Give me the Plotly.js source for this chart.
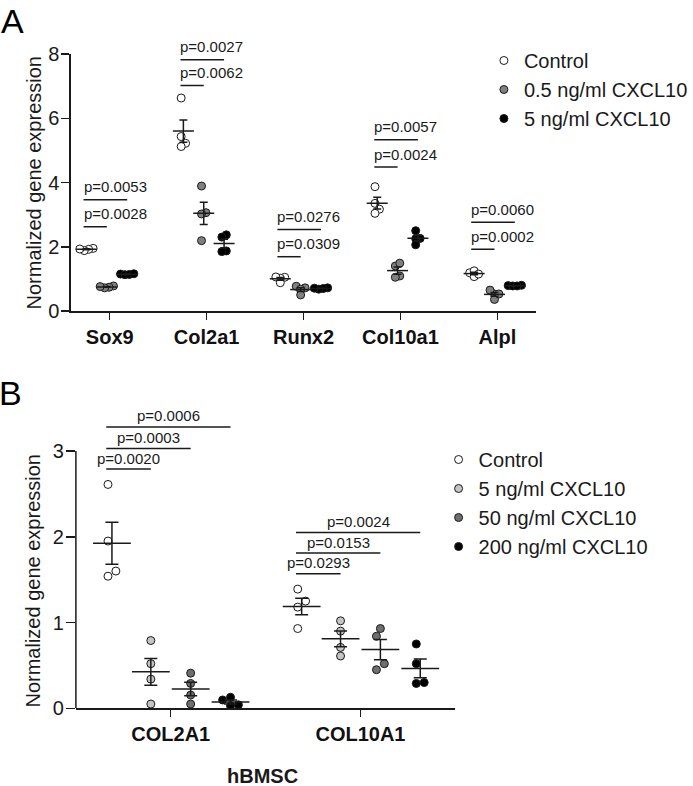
<!DOCTYPE html>
<html><head><meta charset="utf-8">
<script src="https://cdn.plot.ly/plotly-3.0.1.min.js"></script>
<style>html,body{margin:0;padding:0;background:#fff}#chart{width:693px;height:786px}</style>
</head><body><div id="chart"></div>
<script>
// ---------- Panel A data ----------
const catsA = ['Sox9', 'Col2a1', 'Runx2', 'Col10a1', 'Alpl'];
const groupsA = ['Control', '0.5 ng/ml CXCL10', '5 ng/ml CXCL10'];
const ctrlA  = [[1.95,1.92,1.88,1.93],[6.63,5.43,5.22,5.12],[1.05,1.02,1.06,0.88],[3.87,3.35,3.17,3.04],[1.19,1.25,1.07,1.15]];
const cx05A  = [[0.78,0.74,0.72,0.76],[3.89,3.06,3.02,2.19],[0.77,0.72,0.68,0.50],[1.40,1.49,1.09,1.05],[0.53,0.65,0.36,0.53]];
const cx5A   = [[1.15,1.13,1.14,1.16],[2.37,2.30,1.87,1.85],[0.72,0.70,0.68,0.71],[2.50,2.26,2.25,2.06],[0.79,0.78,0.80,0.78]];
const pTopA  = ['p=0.0053','p=0.0027','p=0.0276','p=0.0057','p=0.0060'];
const pBotA  = ['p=0.0028','p=0.0062','p=0.0309','p=0.0024','p=0.0002'];
const barTopA = [3.46, 7.82, 2.54, 5.33, 2.76];
const barBotA = [2.62, 7.02, 1.69, 4.48, 1.92];
const yTicksA = [0, 2, 4, 6, 8];

// ---------- Panel B data ----------
const catsB = ['COL2A1', 'COL10A1'];
const groupsB = ['Control', '5 ng/ml CXCL10', '50 ng/ml CXCL10', '200 ng/ml CXCL10'];
const ctrlB = [[2.61,1.95,1.54,1.60],[1.39,1.25,1.18,0.93]];
const c5B   = [[0.79,0.52,0.34,0.05],[1.02,0.90,0.71,0.61]];
const c50B  = [[0.41,0.29,0.155,0.05],[0.93,0.84,0.52,0.45]];
const c200B = [[0.097,0.128,0.03,0.04],[0.75,0.52,0.29,0.30]];
const pB    = [['p=0.0020','p=0.0003','p=0.0006'],['p=0.0293','p=0.0153','p=0.0024']];
const barB  = [[2.79, 3.03, 3.28],[1.57, 1.81, 2.05]];
const yTicksB = [0, 1, 2, 3];
const xTitleB = 'hBMSC';
const yTitle = 'Normalized gene expression';

// ---------- helpers ----------
const W = 693, H = 786;
const FONT = 'Liberation Sans, Arial, sans-serif';
const INK = '#1a1a1a';
function mean(a){ return a.reduce((s,v)=>s+v,0)/a.length; }
function sem(a){ const m=mean(a); return Math.sqrt(a.reduce((s,v)=>s+(v-m)*(v-m),0)/(a.length-1))/Math.sqrt(a.length); }
// simple beeswarm: returns x offsets (axis units) so markers do not pile up
function swarm(vals, pxX, pxY, dmin, step){
  const idx = vals.map((v,i)=>i).sort((a,b)=>vals[a]-vals[b]);
  const placed = [], offs = new Array(vals.length).fill(0);
  for (const i of idx){
    const yp = vals[i]*pxY;
    for (let k=0;k<60;k++){
      const o = k===0 ? 0 : (k%2 ? 1 : -1)*Math.ceil(k/2)*step;
      if (placed.every(p=>Math.hypot(p[0]-o,p[1]-yp) >= dmin)){ placed.push([o,yp]); offs[i]=o; break; }
    }
  }
  const mid = (Math.max(...offs)+Math.min(...offs))/2;
  return offs.map(o=>(o-mid)/pxX);
}

const traces = [], shapes = [], annotations = [];

// ---------- Panel A ----------
const rangeAx = [-0.4, 4.4], rangeAy = [0, 8];
const domAx = [72/W, 544/W], domAy = [1-311/H, 1-54/H];
const pxXA = (544-72)/(rangeAx[1]-rangeAx[0]), pxYA = (311-54)/(rangeAy[1]-rangeAy[0]);
const offA = [-0.24, -0.03, 0.18];
const colA = ['#ffffff', '#808080', '#000000'];
const serA = [ctrlA, cx05A, cx5A];
serA.forEach((ser,g)=>{
  const xs=[], ys=[];
  ser.forEach((vals,c)=>{
    const o = swarm(vals, pxXA, pxYA, 4.4, 4.5);
    vals.forEach((v,i)=>{ xs.push(c+offA[g]+o[i]); ys.push(v); });
  });
  traces.push({type:'scatter', mode:'markers', x:xs, y:ys, xaxis:'x', yaxis:'y', name:groupsA[g], legend:'legend',
    marker:{size:8, color:colA[g], line:{color:INK, width:1}}, hoverinfo:'skip'});
});
serA.forEach((ser,g)=>{
  traces.push({type:'scatter', mode:'markers', x:catsA.map((_,c)=>c+offA[g]), y:ser.map(mean), xaxis:'x', yaxis:'y',
    error_y:{type:'data', array:ser.map(sem), visible:true, color:INK, thickness:1.5, width:4},
    marker:{symbol:'line-ew', size:15, color:INK, line:{color:INK, width:1.5}}, showlegend:false, hoverinfo:'skip'});
});
catsA.forEach((_,c)=>{
  const x0 = c+offA[0]-0.03;
  shapes.push({type:'line', xref:'x', yref:'y', x0:x0, x1:c+offA[2], y0:barTopA[c], y1:barTopA[c], line:{color:INK, width:1.5}});
  shapes.push({type:'line', xref:'x', yref:'y', x0:x0, x1:c+offA[1], y0:barBotA[c], y1:barBotA[c], line:{color:INK, width:1.5}});
  annotations.push({xref:'x', yref:'y', x:x0, y:barTopA[c], text:pTopA[c], showarrow:false, xanchor:'left', yanchor:'middle', yshift:13, xshift:-2, font:{size:15, family:FONT, color:INK}});
  annotations.push({xref:'x', yref:'y', x:x0, y:barBotA[c], text:pBotA[c], showarrow:false, xanchor:'left', yanchor:'middle', yshift:13, xshift:-2, font:{size:15, family:FONT, color:INK}});
});

// ---------- Panel B ----------
const pxYB = (708.3-451)/3;
const rangeBx = [-0.5, 1.5], rangeBy = [0, 3.5];
const domBx = [77/W, 462/W], domBy = [1-708.3/H, 1-(708.3-pxYB*rangeBy[1])/H];
const pxXB = (462-77)/(rangeBx[1]-rangeBx[0]);
const offB = [-0.31, -0.105, 0.105, 0.315];
const colB = ['#ffffff', '#c4c4c4', '#6e6e6e', '#000000'];
const serB = [ctrlB, c5B, c50B, c200B];
serB.forEach((ser,g)=>{
  const xs=[], ys=[];
  ser.forEach((vals,c)=>{
    const o = swarm(vals, pxXB, pxYB, 8, 4);
    vals.forEach((v,i)=>{ xs.push(c+offB[g]+o[i]); ys.push(v); });
  });
  traces.push({type:'scatter', mode:'markers', x:xs, y:ys, xaxis:'x2', yaxis:'y2', name:groupsB[g], legend:'legend2',
    marker:{size:8, color:colB[g], line:{color:INK, width:1}}, hoverinfo:'skip'});
});
serB.forEach((ser,g)=>{
  traces.push({type:'scatter', mode:'markers', x:catsB.map((_,c)=>c+offB[g]), y:ser.map(mean), xaxis:'x2', yaxis:'y2',
    error_y:{type:'data', array:ser.map(sem), visible:true, color:INK, thickness:1.5, width:6.5},
    marker:{symbol:'line-ew', size:27, color:INK, line:{color:INK, width:1.5}}, showlegend:false, hoverinfo:'skip'});
});
catsB.forEach((_,c)=>{
  const x0 = c+offB[0]-0.03;
  for (let k=1;k<4;k++){
    const x1 = c+offB[k], y = barB[c][k-1];
    shapes.push({type:'line', xref:'x2', yref:'y2', x0:x0, x1:x1, y0:y, y1:y, line:{color:INK, width:1.5}});
    annotations.push({xref:'x2', yref:'y2', x:(x0+x1)/2, y:y, text:pB[c][k-1], showarrow:false, xanchor:'center', yanchor:'middle', yshift:11, font:{size:15, family:FONT, color:INK}});
  }
});
// visible y axis line of panel B, from 0 to top tick
shapes.push({type:'line', xref:'x2 domain', yref:'y2', x0:0, x1:0, y0:yTicksB[0], y1:yTicksB[yTicksB.length-1], line:{color:INK, width:1.5}});

// ---------- labels ----------
annotations.push({xref:'paper', yref:'paper', x:13/W, y:1, text:'A', showarrow:false, xanchor:'center', yanchor:'top', yshift:0, font:{size:34, family:FONT, color:'#000'}});
annotations.push({xref:'paper', yref:'paper', x:11/W, y:1-393/H, text:'B', showarrow:false, xanchor:'center', yanchor:'middle', font:{size:34, family:FONT, color:'#000'}});
annotations.push({xref:'paper', yref:'paper', x:34/W, y:1-183/H, text:yTitle, textangle:-90, showarrow:false, xanchor:'center', yanchor:'middle', font:{size:20, family:FONT, color:INK}});
annotations.push({xref:'paper', yref:'paper', x:33/W, y:1-581/H, text:yTitle, textangle:-90, showarrow:false, xanchor:'center', yanchor:'middle', font:{size:20, family:FONT, color:INK}});
annotations.push({xref:'paper', yref:'paper', x:266/W, y:1-776/H, text:xTitleB, showarrow:false, xanchor:'center', yanchor:'middle', font:{size:20, family:FONT, color:INK, weight:'bold'}});

const axCommon = {showgrid:false, zeroline:false, ticks:'outside', ticklen:7, tickwidth:1.5, tickcolor:INK, linecolor:INK, linewidth:1.5, fixedrange:true};
const layout = {
  width:W, height:H, margin:{l:0, r:0, t:0, b:0}, paper_bgcolor:'#fff', plot_bgcolor:'rgba(0,0,0,0)',
  font:{family:FONT, color:INK},
  xaxis: Object.assign({}, axCommon, {domain:domAx, range:rangeAx, anchor:'y', tickmode:'array', tickvals:catsA.map((_,i)=>i), ticktext:catsA, showline:true, tickfont:{size:20, family:FONT, weight:'bold', color:'#111'}}),
  yaxis: Object.assign({}, axCommon, {domain:domAy, range:rangeAy, anchor:'x', tickmode:'array', tickvals:yTicksA, showline:true, ticklen:8, ticklabelstandoff:-2, tickfont:{size:20, family:FONT, color:INK}}),
  xaxis2: Object.assign({}, axCommon, {domain:domBx, range:rangeBx, anchor:'y2', tickmode:'array', tickvals:catsB.map((_,i)=>i), ticktext:catsB, showline:true, tickfont:{size:20, family:FONT, weight:'bold', color:'#111'}}),
  yaxis2: Object.assign({}, axCommon, {domain:domBy, range:rangeBy, anchor:'x2', tickmode:'array', tickvals:yTicksB, showline:false, ticklen:9, ticklabelstandoff:-2, tickfont:{size:20, family:FONT, color:INK}}),
  legend: {x:491/W, y:1-41/H, xanchor:'left', yanchor:'top', bgcolor:'rgba(0,0,0,0)', font:{size:20, family:FONT, color:INK}, traceorder:'normal'},
  legend2: {x:445/W, y:1-440/H, xanchor:'left', yanchor:'top', bgcolor:'rgba(0,0,0,0)', font:{size:20, family:FONT, color:INK}, traceorder:'normal'},
  shapes: shapes, annotations: annotations, showlegend:true
};
Plotly.newPlot('chart', traces, layout, {displayModeBar:false, staticPlot:true});
</script></body></html>
